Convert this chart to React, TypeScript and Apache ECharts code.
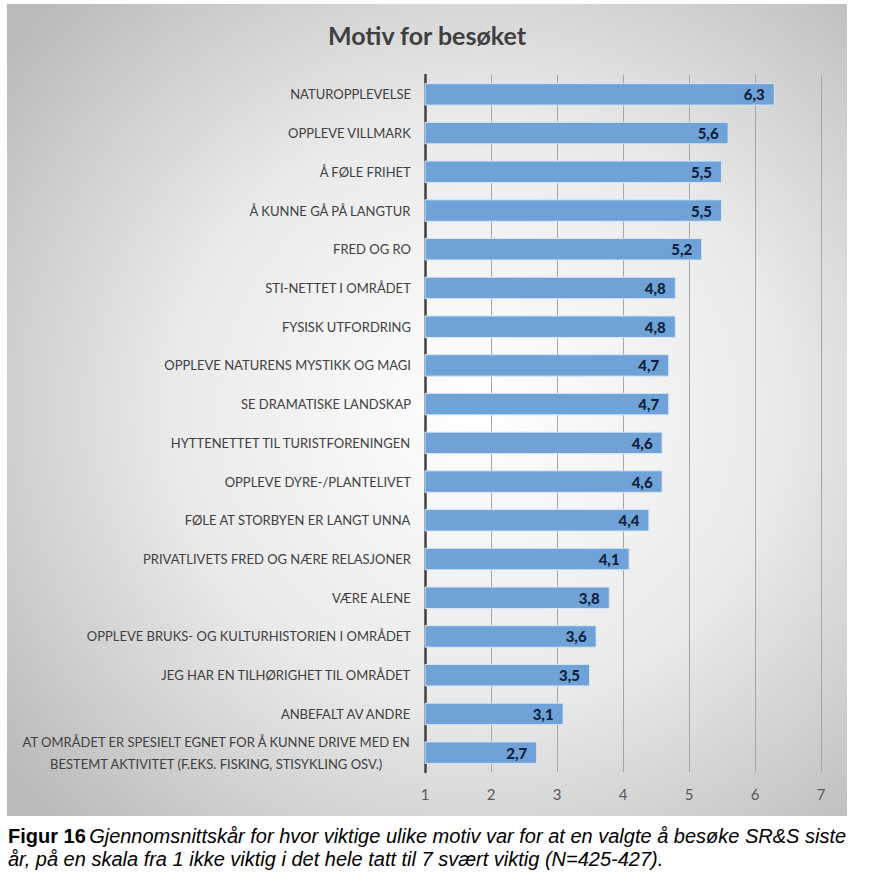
import React, { useEffect, useRef } from "react";
import * as echarts from "echarts";

const categories: string[] = [
  "NATUROPPLEVELSE",
  "OPPLEVE VILLMARK",
  "Å FØLE FRIHET",
  "Å KUNNE GÅ PÅ LANGTUR",
  "FRED OG RO",
  "STI-NETTET I OMRÅDET",
  "FYSISK UTFORDRING",
  "OPPLEVE NATURENS MYSTIKK OG MAGI",
  "SE DRAMATISKE LANDSKAP",
  "HYTTENETTET TIL TURISTFORENINGEN",
  "OPPLEVE DYRE-/PLANTELIVET",
  "FØLE AT STORBYEN ER LANGT UNNA",
  "PRIVATLIVETS FRED OG NÆRE RELASJONER",
  "VÆRE ALENE",
  "OPPLEVE BRUKS- OG KULTURHISTORIEN I OMRÅDET",
  "JEG HAR EN TILHØRIGHET TIL OMRÅDET",
  "ANBEFALT AV ANDRE",
  "AT OMRÅDET ER SPESIELT EGNET FOR Å KUNNE DRIVE MED EN\nBESTEMT AKTIVITET (F.EKS. FISKING, STISYKLING OSV.)",
];

const values: number[] = [6.3, 5.6, 5.5, 5.5, 5.2, 4.8, 4.8, 4.7, 4.7, 4.6, 4.6, 4.4, 4.1, 3.8, 3.6, 3.5, 3.1, 2.7];

const title = "Motiv for besøket";
const captionBold = "Figur 16";
const captionLine1 = "Gjennomsnittskår for hvor viktige ulike motiv var for at en valgte å besøke SR&S siste";
const captionLine2 = "år, på en skala fra 1 ikke viktig i det hele tatt til 7 svært viktig (N=425-427).";

const FONT = "Lato, 'Open Sans', sans-serif";
const CAPFONT = "'Liberation Sans', Arial, sans-serif";

export default function App() {
  const ref = useRef<HTMLDivElement>(null);
  useEffect(() => {
    if (!ref.current) return;
    const chart = echarts.init(ref.current, undefined, { renderer: "svg" });
    chart.setOption({
      animation: false,
      backgroundColor: "#ffffff",
      graphic: [
        {
          type: "rect",
          z: -10,
          silent: true,
          shape: { x: 7, y: 4, width: 840, height: 812 },
          style: {
            fill: new echarts.graphic.RadialGradient(0.56, 0.5, 0.72, [
              { offset: 0, color: "#ffffff" },
              { offset: 0.5, color: "#eaeaea" },
              { offset: 1, color: "#b9b9b9" },
            ]),
          },
        },
        {
          type: "text",
          left: 8,
          top: 826,
          style: {
            text: `{b|${captionBold}} {i|${captionLine1}}\n{i|${captionLine2}}`,
            rich: {
              b: { fontFamily: CAPFONT, fontWeight: "bold", fontSize: 20, fill: "#000", lineHeight: 23 },
              i: { fontFamily: CAPFONT, fontStyle: "italic", fontSize: 20, fill: "#000", lineHeight: 23 },
            },
          },
        },
      ],
      title: {
        text: title,
        left: 422,
        textAlign: "center",
        top: 17,
        textStyle: { fontFamily: FONT, fontSize: 25, fontWeight: "bold", color: "#404040" },
      },
      grid: { left: 425, right: 57, top: 75, bottom: 110, containLabel: false },
      xAxis: {
        type: "value",
        min: 1,
        max: 7,
        interval: 1,
        axisLine: { show: false },
        axisTick: { show: false },
        axisLabel: { fontFamily: FONT, fontSize: 15, color: "#595959", margin: 14 },
        splitLine: { show: true, lineStyle: { color: "#a6a6a6", width: 1 } },
      },
      yAxis: {
        type: "category",
        inverse: true,
        data: categories,
        axisLine: { show: true, lineStyle: { color: "#404040", width: 2.5 } },
        axisTick: { show: false },
        axisLabel: {
          margin: 14,
          formatter: (v: string) => v.split("\n").map((l) => `{c|${l}}`).join("\n"),
          rich: {
            c: { fontFamily: FONT, fontSize: 13, color: "#404040", align: "center", lineHeight: 22 },
          },
        },
      },
      series: [
        {
          type: "bar",
          data: values,
          barCategoryGap: "42%",
          itemStyle: { color: "#6fa3d8", borderColor: "#d6e6f6", borderWidth: 1 },
          label: {
            show: true,
            position: "insideRight",
            distance: 10,
            formatter: (p: any) => String(p.value).replace(".", ","),
            fontFamily: FONT,
            fontSize: 15,
            fontWeight: 900,
            color: "#0f1f3d",
          },
        },
      ],
    });
    return () => chart.dispose();
  }, []);
  return <div ref={ref} style={{ position: "fixed", left: 0, top: 0, width: 878, height: 882 }} />;
}
